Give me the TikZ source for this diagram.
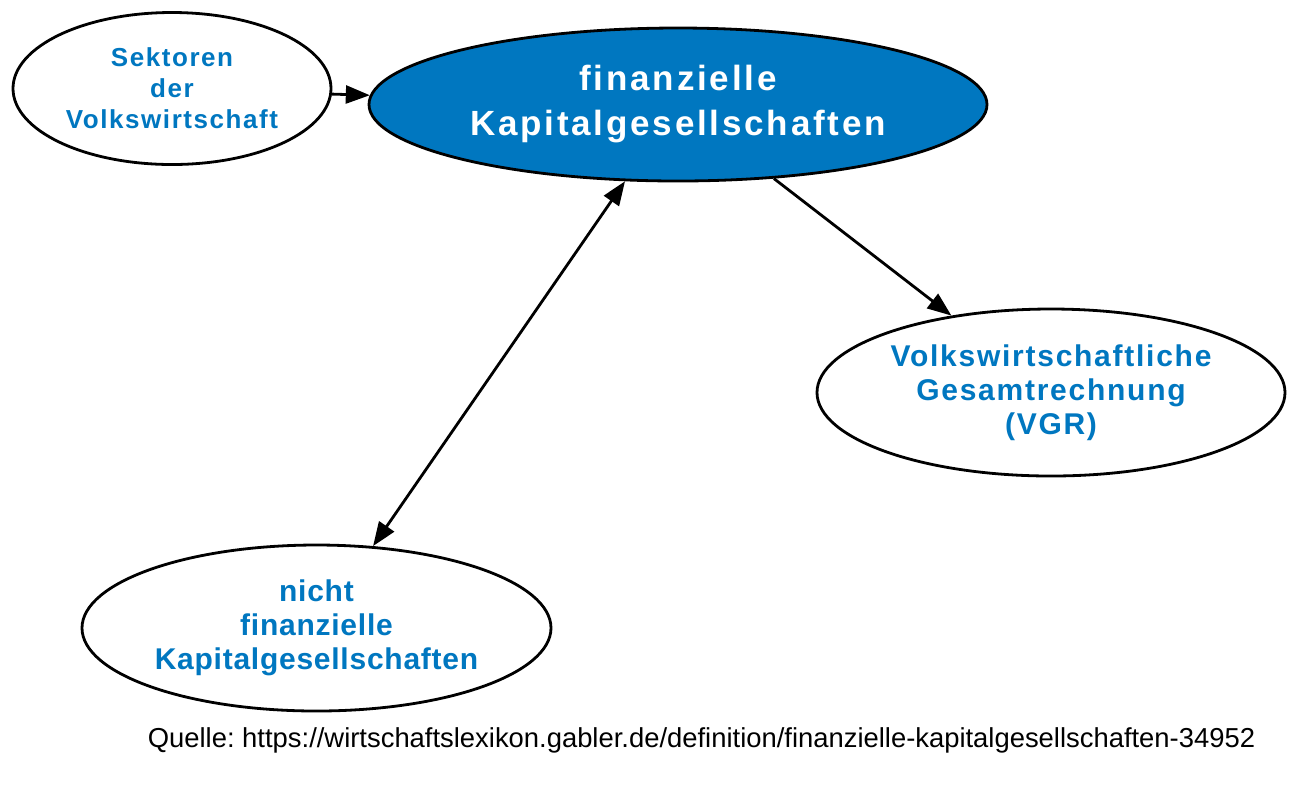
\documentclass[tikz,border=0pt]{standalone}
\usepackage{fontspec}
\setmainfont{Liberation Sans}
\newfontfamily\lsA[LetterSpace=6]{Liberation Sans}
\newfontfamily\lsB[LetterSpace=8]{Liberation Sans}
\newfontfamily\lsC[LetterSpace=5.8]{Liberation Sans}
\newfontfamily\lsD[LetterSpace=2.5]{Liberation Sans}
\usetikzlibrary{shapes.geometric,arrows.meta}
\definecolor{gblue}{RGB}{0,119,192}
\begin{document}
\begin{tikzpicture}[x=0.5pt,y=-0.5pt,
  ell/.style={ellipse,draw=black,line width=1.4pt,inner sep=0pt,align=center,text=gblue,fill=white},
  tip/.tip={Triangle[length=12pt,width=9pt]},
  arr/.style={line width=1.4pt,-tip},
  darr/.style={line width=1.4pt,tip-tip}]
\useasboundingbox (0,0) rectangle (1300,784);
\node[ell,minimum width=159pt,minimum height=76pt,font=\lsA\bfseries\fontsize{13}{15.5}\selectfont] (s) at (172,88.5) {Sektoren\\der\\Volkswirtschaft};
\node[ell,minimum width=309pt,minimum height=76.5pt,fill=gblue,text=white,font=\lsB\bfseries\fontsize{17.5}{22.5}\selectfont] (m) at (678,104.5) {finanzielle\\Kapitalgesellschaften};
\node[ell,minimum width=234pt,minimum height=83.5pt,font=\lsC\bfseries\fontsize{15}{17}\selectfont] (v) at (1051,392.5) {Volkswirtschaftliche\\Gesamtrechnung\\(VGR)};
\node[ell,minimum width=234.5pt,minimum height=83pt,font=\lsD\bfseries\fontsize{15}{17}\selectfont] (n) at (316.5,628) {nicht\\finanzielle\\Kapitalgesellschaften};
\node[font=\fontsize{13.7}{16}\selectfont,inner sep=0pt] (q) at (701.5,740) {\frenchspacing Quelle: https://wirtschaftslexikon.gabler.de/definition/finanzielle-kapitalgesellschaften-34952};
\draw[arr] (s.-2) -- (m);
\draw[darr] (m) -- (n);
\draw[arr] (m) -- (v);
\end{tikzpicture}
\end{document}
